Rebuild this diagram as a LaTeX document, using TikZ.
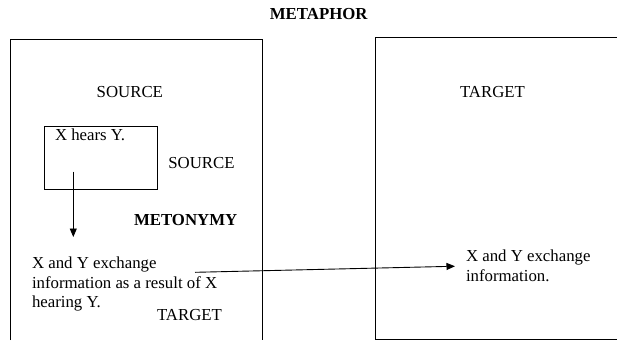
\documentclass[tikz,border=0pt]{standalone}
\usepackage{fontspec}
\setmainfont{Liberation Serif}
\usetikzlibrary{arrows.meta,positioning}
\begin{document}
\begin{tikzpicture}[x=1pt,y=-1pt,every node/.style={outer sep=0pt,inner sep=0pt},
		label/.style={anchor=base west,font=\fontsize{16.8}{19.3}\selectfont},
		heading/.style={font=\fontsize{16.8}{19.3}\selectfont\bfseries},
		frame/.style={line width=0.9pt},
		link/.style={line width=0.9pt,-{Triangle[length=8.5pt,width=7pt]}},
		]
		\useasboundingbox (0,0) rectangle (617,340);

		% domains
		\draw[frame] (10,340) -- (10,39) -- (262,39) -- (262,340);
		\draw[frame] (617,37) -- (375,37) -- (375,339) -- (617,339);
		\node[draw,frame,anchor=north west,minimum width=112.6pt,minimum height=62.3pt] (hearsbox) at (44.7,126.7) {};

		\node[heading,anchor=base] (metaphor) at (318.7,19.3) {METAPHOR};
		\node[label] (srcdomain) at (96.7,97.3) {SOURCE};
		\node[label] (tgtdomain) at (460,97.3) {TARGET};
		\node[label] (hears) at (55,140) {X hears Y.};
		\node[label] (srcmeto) at (168.3,168.3) {SOURCE};
		\node[label,heading] (metonymy) at (134,225) {METONYMY};
		% base anchor of a multi-line node sits on its last line
		\node[label,align=left] (exchange) at (32,307.5) {X and Y exchange\\information as a result of X\\hearing Y.};
		\node[label] (tgtmeto) at (157,320.7) {TARGET};
		\node[label,align=left,font=\fontsize{16.8}{20}\selectfont] (info) at (466,281.7) {X and Y exchange\\information.};

		\coordinate (hearsfoot) at (73.3,171.7);
		\coordinate (exchangetop) at (73.3,237);
		\coordinate (resultmid) at (195,272.3);
		\draw[link] (hearsfoot) -- (exchangetop);
		\draw[link,shorten >=11pt] (resultmid) -- (info.west);
\end{tikzpicture}
\end{document}
